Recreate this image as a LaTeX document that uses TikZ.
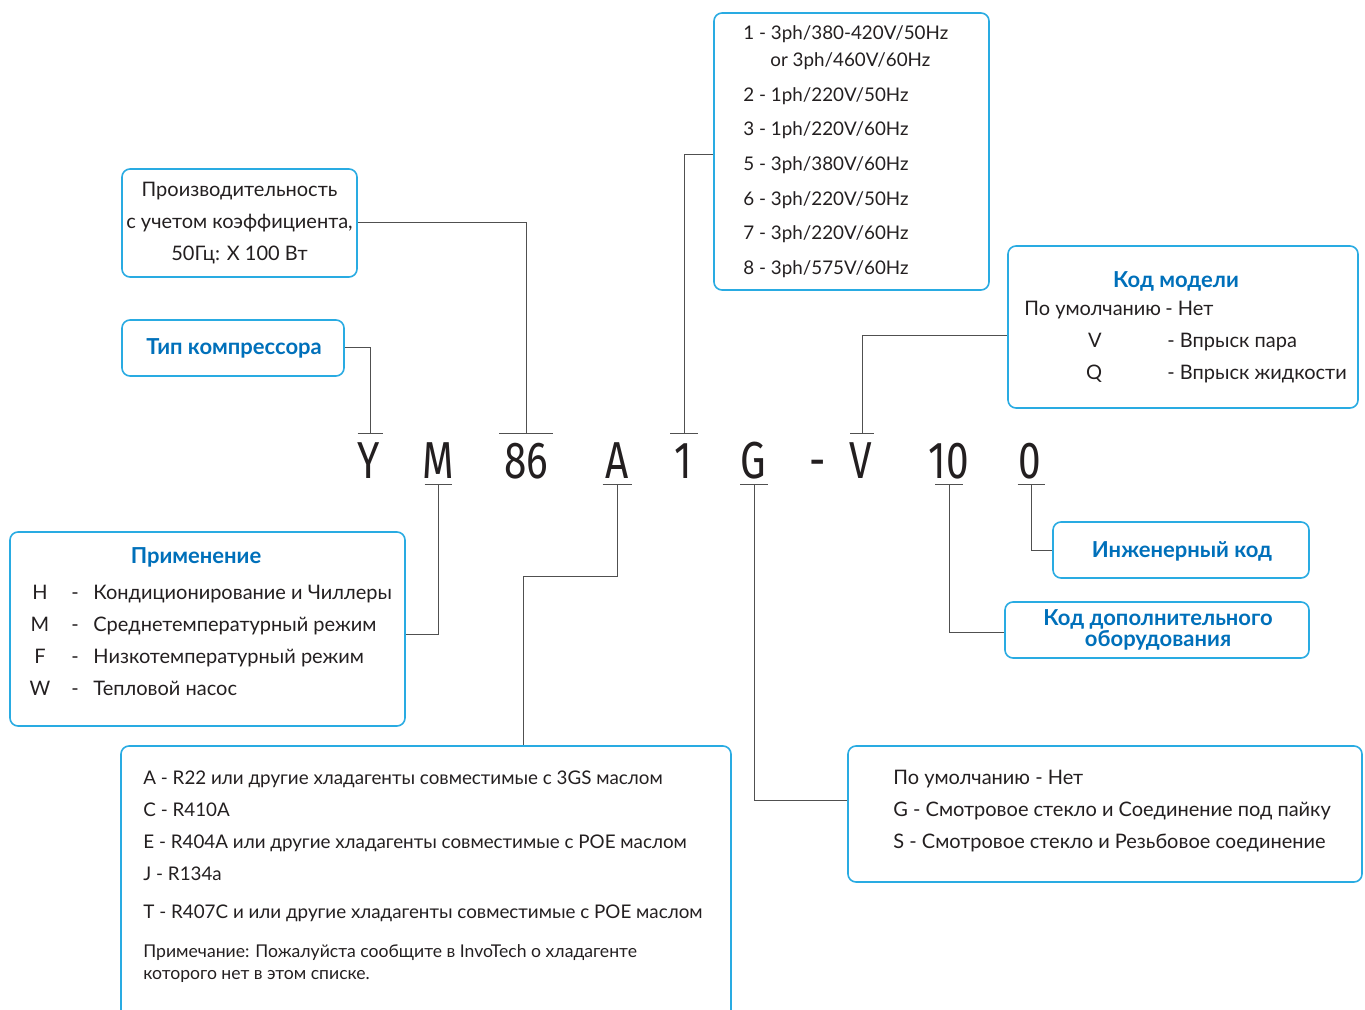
\documentclass[tikz,border=0pt]{standalone}
\usepackage{fontspec}
\setmainfont{Lato}
\newfontfamily\codefont[FakeStretch=0.78]{Fira Sans}
\usetikzlibrary{calc}

\definecolor{boxblue}{RGB}{41,171,226}
\definecolor{titleblue}{RGB}{0,112,186}
\definecolor{ink}{RGB}{35,31,32}
\definecolor{linegray}{RGB}{80,80,80}

\begin{document}
\begin{tikzpicture}[x=0.5pt, y=-0.5pt,
    box/.style={draw=boxblue, line width=0.8pt, rounded corners=4pt, inner sep=0pt, text=ink},
    txt/.style={anchor=base west, inner sep=0pt, text=ink, font=\fontsize{10}{12}\selectfont},
    ctxt/.style={anchor=base, inner sep=0pt, text=ink, font=\fontsize{10}{12}\selectfont},
    smalltxt/.style={txt, font=\fontsize{9.4}{12}\selectfont},
    title/.style={inner sep=0pt, text=titleblue, font=\fontsize{11}{11}\selectfont\bfseries},
    code/.style={anchor=base, inner sep=0pt, text=ink, font=\codefont\fontsize{26}{26}\selectfont},
    link/.style={draw=linegray, line width=0.5pt}]
  \useasboundingbox (0,0) rectangle (1365,1010);
  \clip (0,0) rectangle (1365,1010);

  % model code
  \node[code] (cY) at (369,479) {Y};
  \node[code] (cM) at (438,479) {M};
  \node[code] (c86) at (526,479) {86};
  \node[code] (cA) at (617,479) {A};
  \node[code] (c1) at (683,479) {1};
  \node[code] (cG) at (753,479) {G};
  \node[code] (cdash) at (818,479) {-};
  \node[code] (cV) at (861,479) {V};
  \node[code] (c10) at (949,479) {10};
  \node[code] (c0) at (1030,479) {0};

  \coordinate (tY) at (370,434);
  \coordinate (t86) at (526,434);
  \coordinate (t1) at (684,434);
  \coordinate (tV) at (862,434);
  \coordinate (bM) at (438,484);
  \coordinate (bA) at (617,484);
  \coordinate (bG) at (754,484);
  \coordinate (b10) at (949,484);
  \coordinate (b0) at (1031,484);
  \coordinate (kA) at (523,576);

  % boxes
  \node[box, minimum width=117.5pt, minimum height=54pt, align=center,
        font=\fontsize{10}{16}\selectfont] (cap) at (239.5,223)
        {Производительность\\с учетом коэффициента,\\50Гц: X 100 Вт};
  \node[box, minimum width=111pt, minimum height=28pt] (typ) at (233,348) {};
  \node[title] (typt) at (234,348) {Тип компрессора};

  \node[box, minimum width=137.5pt, minimum height=138.5pt] (pow) at (851.5,151.5) {};
  \node[smalltxt] (p1) at (743,40) {1 - 3ph/380-420V/50Hz};
  \node[smalltxt] (p1b) at (770,67) {or 3ph/460V/60Hz};
  \node[smalltxt] (p2) at (743,102) {2 - 1ph/220V/50Hz};
  \node[smalltxt] (p3) at (743,136) {3 - 1ph/220V/60Hz};
  \node[smalltxt] (p5) at (743,171) {5 - 3ph/380V/60Hz};
  \node[smalltxt] (p6) at (743,206) {6 - 3ph/220V/50Hz};
  \node[smalltxt] (p7) at (743,240) {7 - 3ph/220V/60Hz};
  \node[smalltxt] (p8) at (743,275) {8 - 3ph/575V/60Hz};

  \node[box, minimum width=175pt, minimum height=81pt] (mod) at (1183,327) {};
  \node[title] (modt) at (1176,281) {Код модели};
  \node[txt] (m0) at (1024,316) {По умолчанию};
  \node[txt] (m0d) at (1165,316) {- Нет};
  \node[ctxt] (mV) at (1095,348) {V};
  \node[txt] (mVd) at (1167,348) {- Впрыск пара};
  \node[ctxt] (mQ) at (1094,380) {Q};
  \node[txt] (mQd) at (1167,380) {- Впрыск жидкости};

  \node[box, minimum width=197.5pt, minimum height=97pt] (app) at (207.5,629) {};
  \node[title] (appt) at (196,557) {Применение};
  \node[ctxt] (aH) at (40,599) {H};
  \node[ctxt] (aHd) at (75,599) {-};
  \node[txt] (aHt) at (93,599) {Кондиционирование и Чиллеры};
  \node[ctxt] (aM) at (40,631) {M};
  \node[ctxt] (aMd) at (75,631) {-};
  \node[txt] (aMt) at (93,631) {Среднетемпературный режим};
  \node[ctxt] (aF) at (40,663) {F};
  \node[ctxt] (aFd) at (75,663) {-};
  \node[txt] (aFt) at (93,663) {Низкотемпературный режим};
  \node[ctxt] (aW) at (40,695) {W};
  \node[ctxt] (aWd) at (75,695) {-};
  \node[txt] (aWt) at (93,695) {Тепловой насос};

  \node[box, minimum width=128pt, minimum height=28pt] (eng) at (1181,550) {};
  \node[title] (engt) at (1182,551) {Инженерный код};
  \node[box, minimum width=152pt, minimum height=28pt] (ext) at (1157,630) {};
  \node[title, align=center, font=\fontsize{11}{10.5}\selectfont\bfseries] (extt) at (1158,630)
        {Код дополнительного\\оборудования};

  \node[box, minimum width=305pt, minimum height=147pt] (refr) at (426,893) {};
  \node[smalltxt] (rA) at (143,784) {A - R22 или другие хладагенты совместимые с 3GS маслом};
  \node[smalltxt] (rC) at (143,816) {C - R410A};
  \node[smalltxt] (rE) at (143,848) {E - R404A или другие хладагенты совместимые с POE маслом};
  \node[smalltxt] (rJ) at (143,880) {J - R134a};
  \node[smalltxt] (rT) at (143,918) {T - R407C и или другие хладагенты совместимые с POE маслом};
  \node[txt, font=\fontsize{8.8}{11}\selectfont] (note1) at (143,957)
        {Примечание: Пожалуйста сообщите в InvoTech о хладагенте};
  \node[txt, font=\fontsize{8.8}{11}\selectfont] (note2) at (143,979)
        {которого нет в этом списке.};

  \node[box, minimum width=257pt, minimum height=68pt] (opt) at (1105,814) {};
  \node[txt] (o0) at (893,784) {По умолчанию - Нет};
  \node[txt] (oG) at (893,816) {G - Смотровое стекло и Соединение под пайку};
  \node[txt] (oS) at (893,848) {S - Смотровое стекло и Резьбовое соединение};

  % ticks over and under the code
  \draw[link] ([xshift=-6.25pt]tY) -- ([xshift=6.25pt]tY);
  \draw[link] ([xshift=-13.5pt]t86) -- ([xshift=13.5pt]t86);
  \draw[link] ([xshift=-7pt]t1) -- ([xshift=7pt]t1);
  \draw[link] ([xshift=-6pt]tV) -- ([xshift=6pt]tV);
  \draw[link] ([xshift=-6.75pt]bM) -- ([xshift=6.75pt]bM);
  \draw[link] ([xshift=-7.25pt]bA) -- ([xshift=7.25pt]bA);
  \draw[link] ([xshift=-7pt]bG) -- ([xshift=7pt]bG);
  \draw[link] ([xshift=-7pt]b10) -- ([xshift=7pt]b10);
  \draw[link] ([xshift=-6.75pt]b0) -- ([xshift=6.75pt]b0);

  % leaders to the boxes
  \draw[link] (tY) |- (typ.east);
  \draw[link] (t86) |- (cap.east);
  \draw[link] (t1) |- ([yshift=-1.75pt]pow.west);
  \draw[link] (tV) |- ([yshift=-4.5pt]mod.west);
  \draw[link] (bM) |- ([yshift=-2.5pt]app.east);
  \draw[link] (bA) |- (kA) -- (kA |- refr.north);
  \draw[link] (bG) |- ([yshift=7pt]opt.west);
  \draw[link] (b10) |- ([yshift=-1pt]ext.west);
  \draw[link] (b0) |- (eng.west);
\end{tikzpicture}
\end{document}
